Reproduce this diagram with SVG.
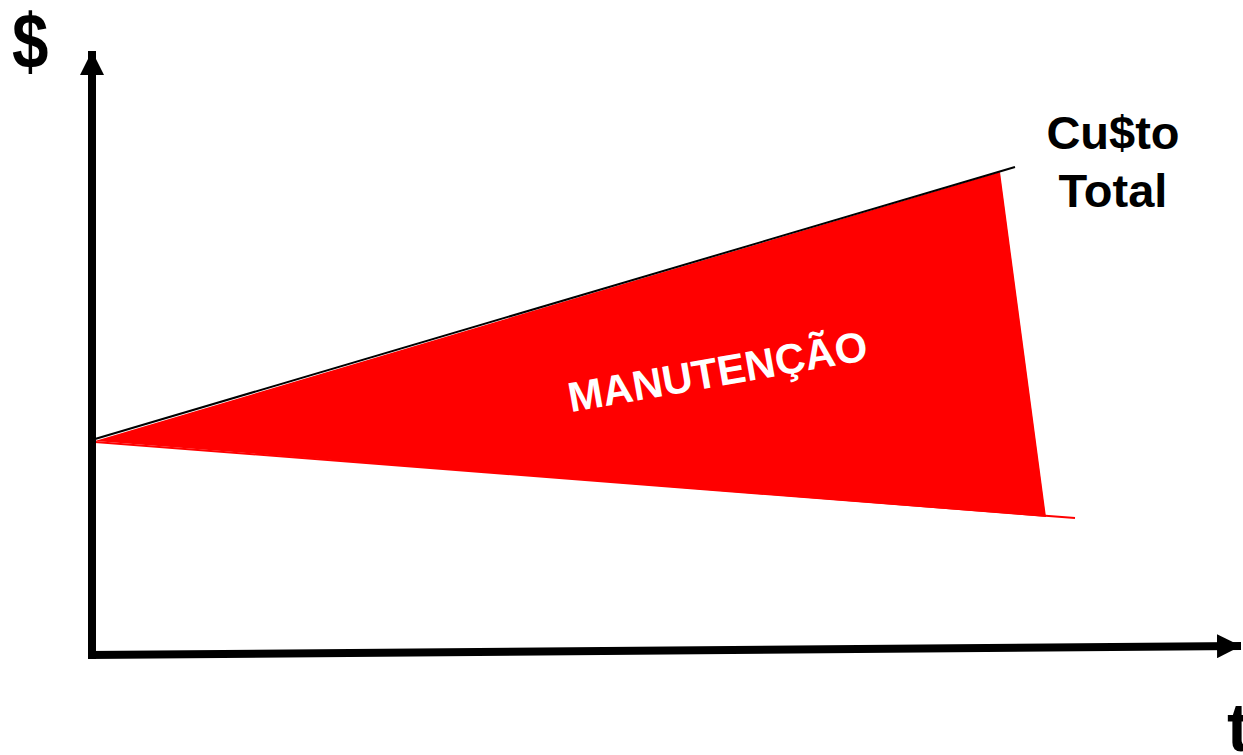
<svg xmlns="http://www.w3.org/2000/svg" width="1243" height="755" viewBox="0 0 1243 755">
<style>
.lbl{font-family:"Liberation Sans",Arial,sans-serif;font-weight:bold;fill:#000}
.axis{stroke:#000;stroke-width:8;fill:none}
</style>
<defs>
<marker id="ah" markerUnits="userSpaceOnUse" markerWidth="26" markerHeight="24" refX="24" refY="12" orient="auto">
<path d="M0,0 L24,12 L0,24 Z" fill="#000"/>
</marker>
</defs>
<rect width="1243" height="755" fill="#fff"/>
<g id="area">
<polygon points="95,441 1000,172 1046,517" fill="#ff0000"/>
<line x1="95" y1="442" x2="1075" y2="518" stroke="#ff0000" stroke-width="2"/>
<line x1="95" y1="439" x2="1015" y2="167" stroke="#000" stroke-width="2"/>
<text class="lbl" x="0" y="0" font-size="42" style="fill:#fff" text-anchor="middle" transform="translate(720,386) rotate(-10)">MANUTENÇÃO</text>
</g>
<g id="connectors">
<line class="axis" x1="92" y1="659" x2="92" y2="51" marker-end="url(#ah)"/>
<line class="axis" x1="88" y1="655" x2="1241" y2="646" marker-end="url(#ah)"/>
</g>
<g id="labels">
<text class="lbl" x="0" y="0" font-size="78" transform="translate(12,68) scale(0.84,1)">$</text>
<text class="lbl" x="1227" y="751" font-size="68">t</text>
<text class="lbl" x="1113" y="149" font-size="47" text-anchor="middle">Cu$to</text>
<text class="lbl" x="1113" y="207" font-size="47" text-anchor="middle">Total</text>
</g>
</svg>
